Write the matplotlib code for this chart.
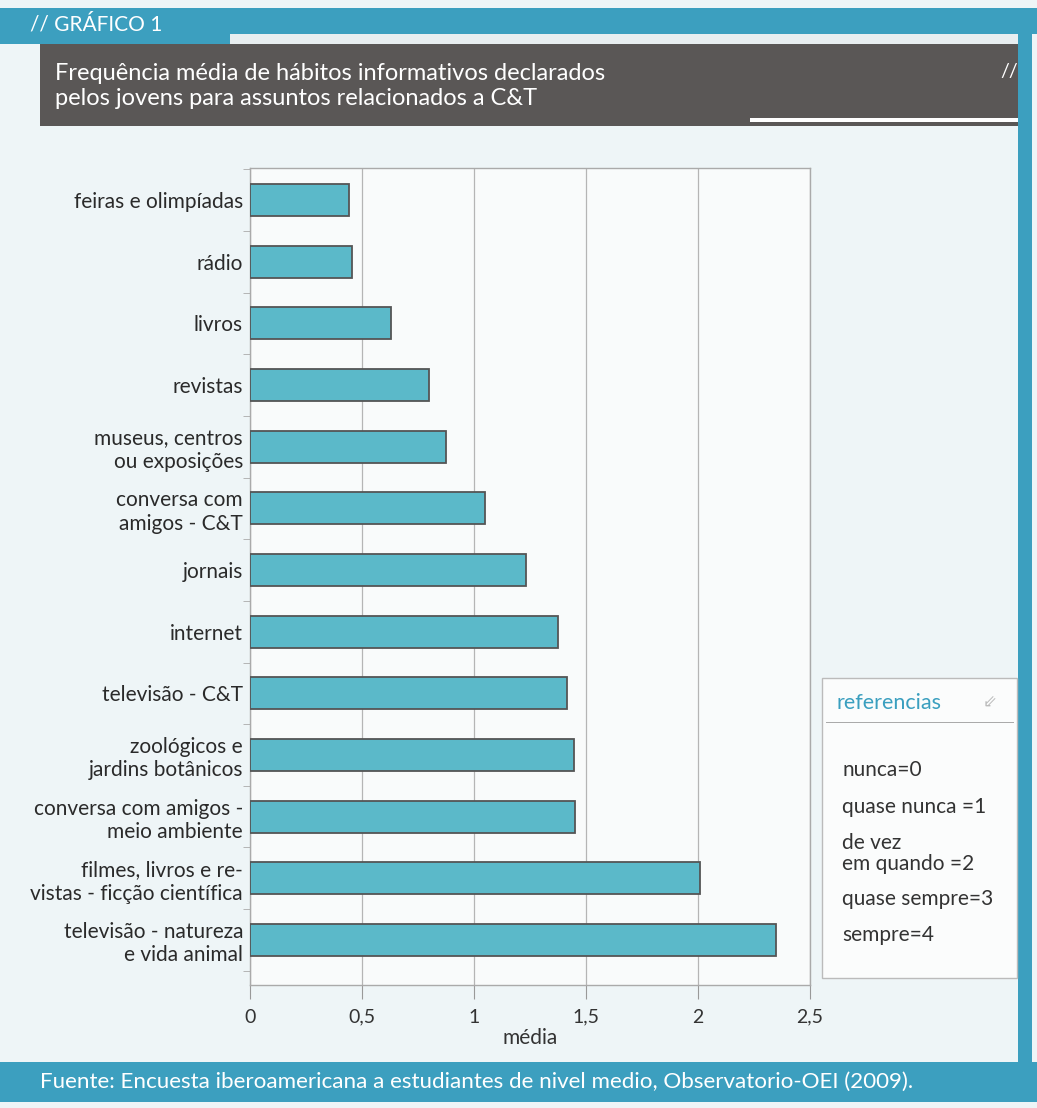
import matplotlib.pyplot as plt
from matplotlib.patches import Rectangle
from matplotlib.ticker import FixedLocator

plt.rcParams['font.family'] = ['Lato', 'DejaVu Sans']

# dados do gráfico
categorias = [
    "feiras e olimpíadas",
    "rádio",
    "livros",
    "revistas",
    "museus, centros\nou exposições",
    "conversa com\namigos - C&T",
    "jornais",
    "internet",
    "televisão - C&T",
    "zoológicos e\njardins botânicos",
    "conversa com amigos -\nmeio ambiente",
    "filmes, livros e re-\nvistas - ficção científica",
    "televisão - natureza\ne vida animal",
]
medias = [0.44, 0.455, 0.63, 0.80, 0.875, 1.05, 1.23, 1.375, 1.415, 1.445, 1.45, 2.01, 2.35]
ticks_x = [0, 0.5, 1, 1.5, 2, 2.5]
rotulos_x = ["0", "0,5", "1", "1,5", "2", "2,5"]
referencias = ["nunca=0", "quase nunca =1", "de vez", "em quando =2", "quase sempre=3", "sempre=4"]

titulo = "Frequência média de hábitos informativos declarados\npelos jovens para assuntos relacionados a C&T"
fonte = "Fuente: Encuesta iberoamericana a estudiantes de nivel medio, Observatorio-OEI (2009)."

azul = "#3c9fbf"
cinza_escuro = "#5a5756"
cor_barra = "#5bb9c9"
fundo = "#eef5f7"

W, H = 1037, 1108
fig = plt.figure(figsize=(W / 100, H / 100), dpi=100)
fig.patch.set_facecolor(fundo)


def px(x, y, w, h):
    # retângulo em pixels (origem no topo) -> coordenadas da figura
    return (x / W, 1 - (y + h) / H), w / W, h / H


def caixa(x, y, w, h, **kw):
    xy, ww, hh = px(x, y, w, h)
    fig.patches.append(Rectangle(xy, ww, hh, transform=fig.transFigure, **kw))


# cabeçalho
caixa(0, 8, W, 26, facecolor=azul, edgecolor="none")
caixa(0, 34, 230, 10, facecolor=azul, edgecolor="none")
caixa(230, 34, 790, 10, facecolor="#e8eef0", edgecolor="none")
caixa(40, 44, 980, 82, facecolor=cinza_escuro, edgecolor="none")
caixa(750, 118, 270, 4, facecolor="#ffffff", edgecolor="none")
caixa(1018, 34, 14, 1030, facecolor=azul, edgecolor="none")
fig.text(30 / W, 1 - 24 / H, "// GRÁFICO 1", color="white", fontsize=15, va="center")
fig.text(55 / W, 1 - 86 / H, titulo, color="white", fontsize=17, va="center", linespacing=1.25)
fig.text(1000 / W, 1 - 72 / H, "//", color="white", fontsize=14, va="center")

# rodapé
caixa(0, 1062, W, 40, facecolor=azul, edgecolor="none")
fig.text(40 / W, 1 - 1082 / H, fonte, color="white", fontsize=16.1, va="center")

# gráfico de barras
ax = fig.add_axes([250 / W, 1 - 985 / H, 560 / W, 817 / H])
ax.set_facecolor("#f9fbfb")
y = list(range(len(categorias)))
ax.barh(y, medias, height=0.52, color=cor_barra, edgecolor="#555555", linewidth=1.3, zorder=3)
ax.set_xlim(0, 2.5)
ax.set_ylim(12.73, -0.52)
ax.set_xticks(ticks_x)
ax.set_xticklabels(rotulos_x, fontsize=14, color="#333333")
ax.set_yticks(y)
ax.set_yticklabels(categorias, fontsize=15, color="#2a2a2a", linespacing=1.2)
ax.yaxis.set_minor_locator(FixedLocator([i + 0.5 for i in range(-1, len(categorias))]))
ax.tick_params(axis="y", which="major", length=0, pad=5)
ax.tick_params(axis="y", which="minor", length=5, color="#aaaaaa")
ax.tick_params(axis="x", length=10, color="#999999", pad=7)
ax.grid(axis="x", color="#b5b5b5", linewidth=0.9, zorder=0)
for s in ax.spines.values():
    s.set_color("#aaaaaa")
    s.set_linewidth(1.0)
ax.set_xlabel("média", fontsize=15, color="#333333", labelpad=2)

# caixa de referências
caixa(822, 678, 195, 300, facecolor="#fbfcfc", edgecolor="#bbbbbb", linewidth=1)
fig.text(836 / W, 1 - 703 / H, "referencias", color="#3a9fbf", fontsize=15.5, va="center")
fig.text(990 / W, 1 - 703 / H, "⇙", color="#bbbbbb", fontsize=12, va="center", ha="center",
         family=["DejaVu Sans"])
caixa(826, 722, 188, 1, facecolor="#aaaaaa", edgecolor="none")
pos_ref = [770, 807, 843, 864, 899, 935]
for texto, yy in zip(referencias, pos_ref):
    fig.text(842 / W, 1 - yy / H, texto, color="#333333", fontsize=15, va="center")

fig.savefig("out.png", dpi=100, facecolor=fig.get_facecolor())
